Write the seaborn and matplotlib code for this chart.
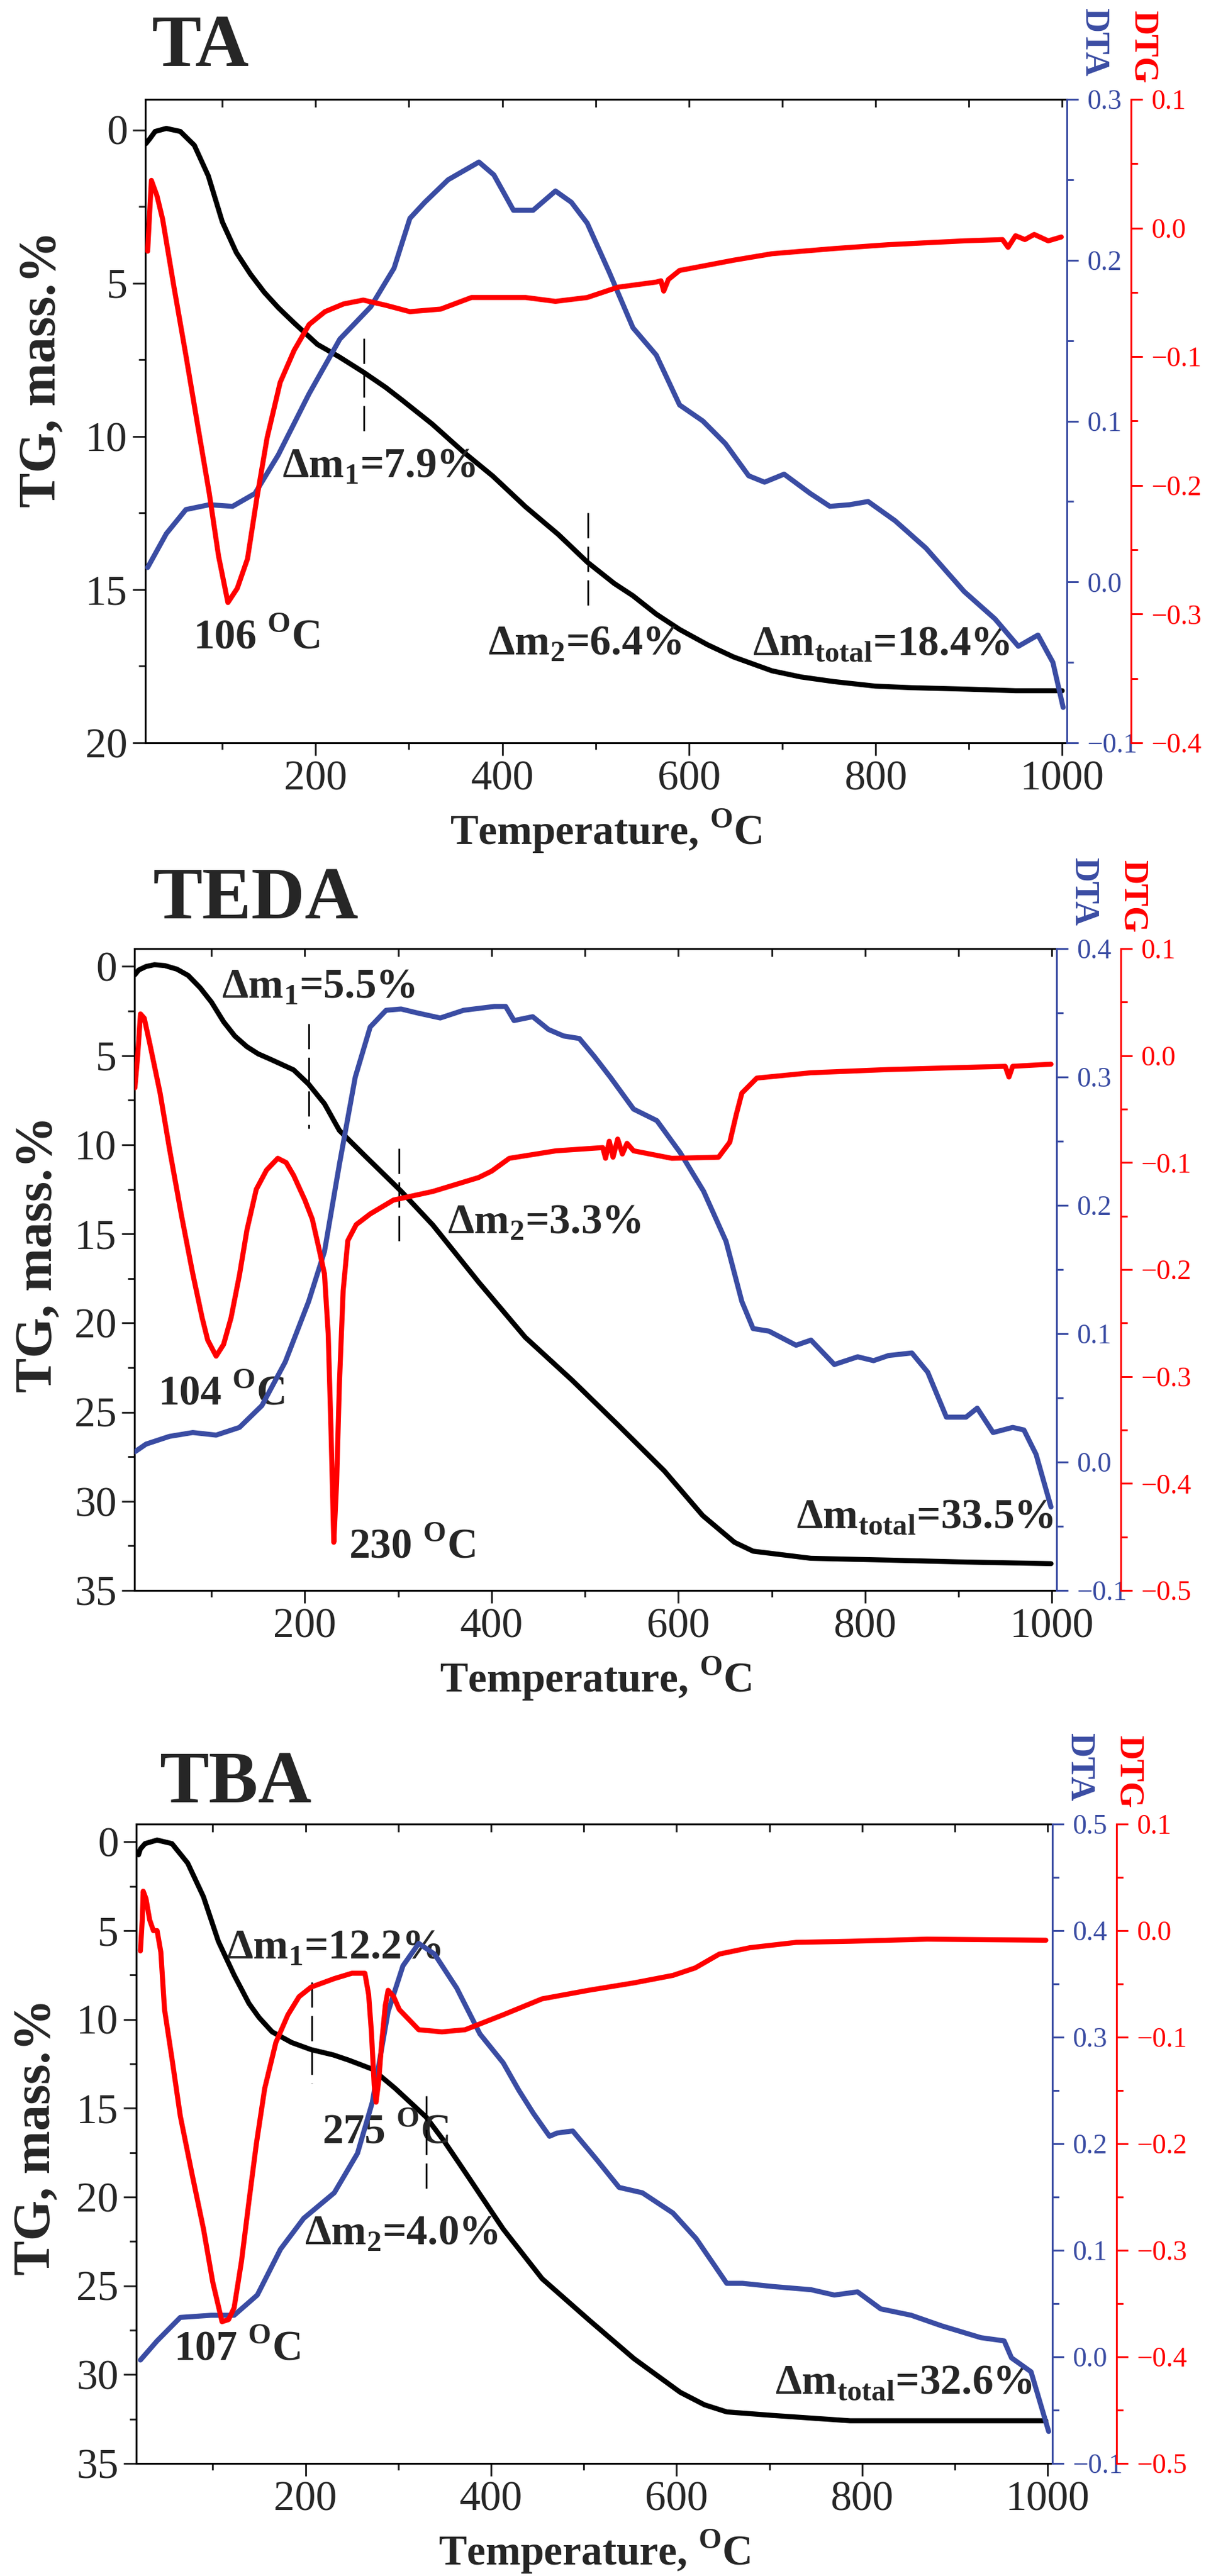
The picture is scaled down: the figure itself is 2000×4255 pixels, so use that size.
import numpy as np
import matplotlib
matplotlib.use('Agg')
import matplotlib.pyplot as plt
import seaborn as sns
from matplotlib.ticker import MultipleLocator, FuncFormatter

# ---------------- data ----------------
# TA
ta_tg_t = [18, 22, 28, 40, 55, 70, 85, 100, 115, 130, 145, 160, 177, 202, 225, 251, 275, 292, 325, 358,
           390, 425, 460, 491, 520, 540, 565, 590, 620, 648, 689, 720, 755, 800, 838, 900, 950, 1000]
ta_tg = [0.45, 0.3, 0.05, -0.05, 0.05, 0.5, 1.5, 3.0, 4.0, 4.7, 5.3, 5.8, 6.3, 7.0, 7.4, 7.9, 8.4, 8.8, 9.6, 10.5,
         11.3, 12.3, 13.2, 14.1, 14.8, 15.2, 15.8, 16.3, 16.8, 17.2, 17.65, 17.85, 18.0, 18.15, 18.2, 18.25, 18.3, 18.3]
ta_dta_t = [20, 40, 61, 86, 111, 135, 160, 193, 226, 259, 284, 301, 317, 342, 360, 375, 391, 412, 433, 457,
            474, 491, 515, 540, 565, 590, 615, 639, 664, 681, 702, 730, 751, 772, 792, 821, 854, 895, 928, 953,
            974, 990, 1001]
ta_dta = [0.009, 0.03, 0.045, 0.048, 0.047, 0.055, 0.079, 0.117, 0.151, 0.171, 0.195, 0.226, 0.236, 0.250,
          0.256, 0.261, 0.253, 0.231, 0.231, 0.243, 0.236, 0.223, 0.192, 0.158, 0.141, 0.110, 0.100, 0.086,
          0.066, 0.062, 0.067, 0.055, 0.047, 0.048, 0.050, 0.038, 0.021, -0.006, -0.023, -0.040, -0.033,
          -0.050, -0.078]
ta_dtg_t = [20, 22, 24, 30, 36, 48, 61, 74, 86, 96, 106, 116, 127, 137, 148, 162, 177, 193, 210, 230, 251,
            275, 301, 334, 367, 425, 457, 491, 524, 565, 570, 573, 578, 590, 648, 689, 755, 813, 895, 936,
            942, 950, 960, 970, 985, 999]
ta_dtg = [-0.018, 0.01, 0.037, 0.025, 0.007, -0.045, -0.099, -0.155, -0.206, -0.255, -0.291, -0.280, -0.257,
          -0.21, -0.163, -0.12, -0.095, -0.075, -0.065, -0.059, -0.056, -0.060, -0.065, -0.063, -0.054,
          -0.054, -0.057, -0.054, -0.046, -0.042, -0.041, -0.049, -0.040, -0.033, -0.025, -0.020, -0.016,
          -0.013, -0.010, -0.009, -0.015, -0.006, -0.009, -0.005, -0.010, -0.007]

# TEDA
teda_tg_t = [18, 22, 30, 39, 50, 63, 75, 88, 100, 113, 125, 138, 150, 163, 188, 204, 221, 237, 262, 303,
             337, 386, 436, 486, 535, 585, 626, 660, 680, 742, 825, 900, 999]
teda_tg = [0.46, 0.2, 0.0, -0.1, -0.05, 0.15, 0.5, 1.2, 2.0, 3.1, 3.9, 4.5, 4.9, 5.2, 5.8, 6.6, 7.7, 9.2,
           10.5, 12.6, 14.5, 17.7, 20.8, 23.2, 25.7, 28.3, 30.8, 32.3, 32.8, 33.2, 33.3, 33.4, 33.5]
teda_dta_t = [18, 30, 55, 80, 105, 130, 154, 179, 204, 221, 237, 254, 270, 287, 303, 320, 345, 370, 403,
              415, 424, 444, 461, 477, 494, 510, 527, 552, 577, 602, 627, 651, 668, 680, 697, 726, 742, 767,
              792, 809, 825, 850, 867, 887, 908, 920, 937, 958, 970, 983, 999]
teda_dta = [0.008, 0.014, 0.02, 0.023, 0.021, 0.027, 0.044, 0.078, 0.125, 0.164, 0.232, 0.300, 0.339, 0.352,
            0.353, 0.350, 0.346, 0.352, 0.355, 0.355, 0.344, 0.347, 0.337, 0.332, 0.330, 0.316, 0.300, 0.275,
            0.266, 0.241, 0.211, 0.172, 0.125, 0.104, 0.102, 0.091, 0.095, 0.076, 0.082, 0.079, 0.083, 0.085,
            0.070, 0.035, 0.035, 0.042, 0.023, 0.027, 0.025, 0.006, -0.035]
teda_dtg_t = [18, 21, 24, 28, 34, 45, 55, 68, 80, 90, 96, 105, 113, 121, 130, 138, 148, 159, 171, 180, 188,
              200, 208, 215, 221, 225, 228, 231, 234, 237, 241, 246, 255, 270, 295, 337, 386, 400, 419, 469,
              519, 522, 526, 530, 535, 540, 545, 552, 593, 643, 655, 662, 668, 684, 742, 825, 908, 950, 954,
              958, 999]
teda_dtg = [-0.030, 0.0, 0.039, 0.035, 0.011, -0.035, -0.087, -0.15, -0.204, -0.245, -0.266, -0.281, -0.270,
            -0.245, -0.205, -0.163, -0.125, -0.107, -0.096, -0.100, -0.112, -0.135, -0.153, -0.180, -0.204,
            -0.26, -0.35, -0.455, -0.40, -0.307, -0.22, -0.173, -0.158, -0.148, -0.135, -0.127, -0.114,
            -0.108, -0.096, -0.089, -0.086, -0.096, -0.080, -0.095, -0.078, -0.092, -0.082, -0.089, -0.096,
            -0.095, -0.081, -0.055, -0.035, -0.021, -0.016, -0.013, -0.011, -0.010, -0.020, -0.010, -0.008]

# TBA
tba_tg_t = [20, 22, 27, 40, 56, 73, 90, 106, 123, 139, 150, 164, 185, 206, 230, 247, 272, 297, 330, 350,
            372, 413, 455, 505, 554, 604, 630, 654, 704, 787, 900, 998]
tba_tg = [0.73, 0.4, 0.1, -0.1, 0.1, 1.2, 3.1, 5.6, 7.5, 9.1, 9.9, 10.7, 11.3, 11.7, 12.0, 12.3, 12.8, 13.9,
          15.5, 16.9, 18.6, 21.8, 24.6, 26.9, 29.1, 31.0, 31.7, 32.1, 32.3, 32.6, 32.6, 32.6]
tba_dta_t = [22, 40, 65, 98, 123, 148, 173, 198, 231, 256, 272, 289, 305, 322, 339, 363, 388, 413, 430, 446,
             463, 471, 488, 513, 538, 563, 596, 621, 654, 671, 704, 745, 770, 795, 820, 853, 886, 928, 953,
             961, 982, 1001]
tba_dta = [-0.003, 0.015, 0.037, 0.039, 0.039, 0.058, 0.101, 0.130, 0.154, 0.191, 0.239, 0.324, 0.367, 0.388,
           0.378, 0.346, 0.303, 0.276, 0.250, 0.228, 0.207, 0.210, 0.212, 0.186, 0.159, 0.154, 0.135, 0.111,
           0.069, 0.069, 0.066, 0.063, 0.058, 0.061, 0.045, 0.039, 0.029, 0.018, 0.015, -0.001, -0.014, -0.070]
tba_dtg_t = [22, 24, 25, 28, 32, 36, 40, 44, 48, 56, 65, 78, 90, 100, 110, 117, 123, 131, 139, 147, 156, 168,
             181, 193, 206, 231, 250, 264, 268, 271, 274, 276, 279, 282, 286, 289, 295, 301, 322, 347, 372,
             413, 455, 505, 554, 596, 620, 646, 679, 729, 787, 870, 998]
tba_dtg = [-0.019, 0.01, 0.037, 0.03, 0.010, 0.0, 0.0, -0.02, -0.074, -0.12, -0.174, -0.23, -0.280, -0.33,
           -0.367, -0.365, -0.354, -0.31, -0.254, -0.20, -0.148, -0.105, -0.079, -0.062, -0.053, -0.045,
           -0.040, -0.040, -0.06, -0.095, -0.145, -0.161, -0.14, -0.106, -0.07, -0.056, -0.062, -0.074,
           -0.093, -0.095, -0.093, -0.079, -0.064, -0.056, -0.049, -0.042, -0.035, -0.022, -0.016, -0.011,
           -0.010, -0.008, -0.009]

# annotations: (T, TG, text) and dashed markers (T, TG from, TG to)
ta_notes = [(164, 11.0, 'Δm$_\\mathregular{1}$=7.9%'), (69, 16.6, '106 $^\\mathregular{O}$C'),
            (385, 16.8, 'Δm$_\\mathregular{2}$=6.4%'), (668, 16.8, 'Δm$_\\mathregular{total}$=18.4%')]
ta_dash = [(252, 6.8, 10.0), (492, 12.5, 15.7)]
teda_notes = [(111, 1.2, 'Δm$_\\mathregular{1}$=5.5%'), (353, 14.4, 'Δm$_\\mathregular{2}$=3.3%'),
              (43, 24.0, '104 $^\\mathregular{O}$C'), (247, 32.6, '230 $^\\mathregular{O}$C'),
              (726, 30.9, 'Δm$_\\mathregular{total}$=33.5%')]
teda_dash = [(204, 3.2, 9.1), (301, 10.2, 15.4)]
tba_notes = [(115, 6.0, 'Δm$_\\mathregular{1}$=12.2%'), (218, 16.4, '275 $^\\mathregular{O}$C'),
             (199, 22.1, 'Δm$_\\mathregular{2}$=4.0%'), (58, 28.6, '107 $^\\mathregular{O}$C'),
             (706, 30.5, 'Δm$_\\mathregular{total}$=32.6%')]
tba_dash = [(207, 7.9, 13.6), (330, 14.3, 19.7)]

# ---------------- style ----------------
sns.set_style('ticks')
plt.rcParams['font.family'] = ['Liberation Serif', 'DejaVu Serif']
plt.rcParams['axes.unicode_minus'] = True

BLUE = '#3a4ca3'
RED = '#ff0000'
W, H = 2000, 4255
PT = 100 / 72.0  # px per point
LW = 6

fig = plt.figure(figsize=(W / 100, H / 100), dpi=100)


def fx(x):
    return x / W


def fy(y):
    return 1 - y / H


def fmt1(v, pos):
    s = '%.1f' % v
    if s == '-0.0':
        s = '0.0'
    return s.replace('-', '\u2212')


def panel(box, title, title_xy, ylab_xy, tg, dta, dtg, tg_max, dta_lim, dtg_lim, notes, dashes):
    left, top, right, bottom = box
    ax = fig.add_axes([fx(left), fy(bottom), (right - left) / W, (bottom - top) / H])
    sns.lineplot(x=tg[0], y=tg[1], ax=ax, color='black', linewidth=LW, sort=False,
                 estimator=None, legend=False, solid_joinstyle='round')
    ax.set_xlim(17.5, 1005)
    ax.set_ylim(tg_max, -1)
    ax.xaxis.set_major_locator(MultipleLocator(200))
    ax.xaxis.set_minor_locator(MultipleLocator(100))
    ax.yaxis.set_major_locator(MultipleLocator(5))
    ax.yaxis.set_minor_locator(MultipleLocator(2.5))
    ax.tick_params(which='major', direction='out', length=15, width=2.2, labelsize=50, pad=6)
    ax.tick_params(which='minor', direction='out', length=8, width=2.2)
    ax.tick_params(right=False, top=False)
    for s in ['left', 'bottom', 'top']:
        ax.spines[s].set_linewidth(2.2)
        ax.spines[s].set_color('black')
    ax.spines['right'].set_visible(False)
    sec = ax.secondary_xaxis('top')
    sec.xaxis.set_major_locator(MultipleLocator(100))
    sec.tick_params(which='major', direction='in', length=9, width=2.2, labeltop=False)
    sec.tick_params(which='minor', top=False)
    sec.spines['top'].set_linewidth(2.2)
    ax.set_xlabel('Temperature, $^\\mathregular{O}$C', fontsize=50, fontweight='bold', labelpad=10)
    ax.set_ylabel('')
    fig.text(fx(ylab_xy[0]), fy(ylab_xy[1]), 'TG, mass.%', rotation=90, fontsize=62,
             fontweight='bold', ha='center', va='center')
    fig.text(fx(title_xy[0]), fy(title_xy[1]), title, fontsize=88, fontweight='bold',
             ha='left', va='baseline')

    ax2 = ax.twinx()
    sns.lineplot(x=dta[0], y=dta[1], ax=ax2, color=BLUE, linewidth=LW, sort=False,
                 estimator=None, legend=False, solid_joinstyle='round')
    ax2.set_ylim(*dta_lim)
    ax2.yaxis.set_major_locator(MultipleLocator(0.1))
    ax2.yaxis.set_minor_locator(MultipleLocator(0.05))
    ax2.yaxis.set_major_formatter(FuncFormatter(fmt1))
    ax2.tick_params(axis='y', which='major', direction='out', length=14, width=2.2,
                    labelsize=33, colors=BLUE, pad=10)
    ax2.tick_params(axis='y', which='minor', direction='out', length=8, width=2.2, colors=BLUE)
    for s in ['left', 'bottom', 'top']:
        ax2.spines[s].set_visible(False)
    ax2.spines['right'].set_color(BLUE)
    ax2.spines['right'].set_linewidth(2.2)
    ax2.set_ylabel('')

    ax3 = ax.twinx()
    sns.lineplot(x=dtg[0], y=dtg[1], ax=ax3, color=RED, linewidth=LW, sort=False,
                 estimator=None, legend=False, solid_joinstyle='round')
    ax3.set_ylim(*dtg_lim)
    ax3.spines['right'].set_position(('outward', 106 / PT))
    ax3.yaxis.set_major_locator(MultipleLocator(0.1))
    ax3.yaxis.set_minor_locator(MultipleLocator(0.05))
    ax3.yaxis.set_major_formatter(FuncFormatter(fmt1))
    ax3.tick_params(axis='y', which='major', direction='out', length=14, width=2.2,
                    labelsize=33, colors=RED, pad=10)
    ax3.tick_params(axis='y', which='minor', direction='out', length=8, width=2.2, colors=RED)
    for s in ['left', 'bottom', 'top']:
        ax3.spines[s].set_visible(False)
    ax3.spines['right'].set_color(RED)
    ax3.spines['right'].set_linewidth(2.2)
    ax3.set_ylabel('')

    fig.text(fx(right + 44), fy(top - 38), 'DTA', rotation=270, color=BLUE, fontsize=40,
             fontweight='bold', ha='center', va='bottom')
    fig.text(fx(right + 126), fy(top - 27), 'DTG', rotation=270, color=RED, fontsize=40,
             fontweight='bold', ha='center', va='bottom')

    for t, y, s in notes:
        ax.text(t, y, s, fontsize=50, fontweight='bold', ha='left', va='center', zorder=5)
    for t, y0, y1 in dashes:
        ax.vlines(t, y0, y1, colors='black', linewidth=2, linestyles=(0, (15, 5)), zorder=5)


panel((240, 164, 1762, 1227), 'TA', (250, 109), (70, 610),
      (ta_tg_t, ta_tg), (ta_dta_t, ta_dta), (ta_dtg_t, ta_dtg), 20, (-0.1, 0.3), (-0.4, 0.1),
      ta_notes, ta_dash)
panel((222, 1567, 1745, 2627), 'TEDA', (252, 1517), (64, 2072),
      (teda_tg_t, teda_tg), (teda_dta_t, teda_dta), (teda_dtg_t, teda_dtg), 35, (-0.1, 0.4), (-0.5, 0.1),
      teda_notes, teda_dash)
panel((225, 3013, 1738, 4069), 'TBA', (263, 2977), (61, 3530),
      (tba_tg_t, tba_tg), (tba_dta_t, tba_dta), (tba_dtg_t, tba_dtg), 35, (-0.1, 0.5), (-0.5, 0.1),
      tba_notes, tba_dash)

fig.savefig('out.png', dpi=100)
